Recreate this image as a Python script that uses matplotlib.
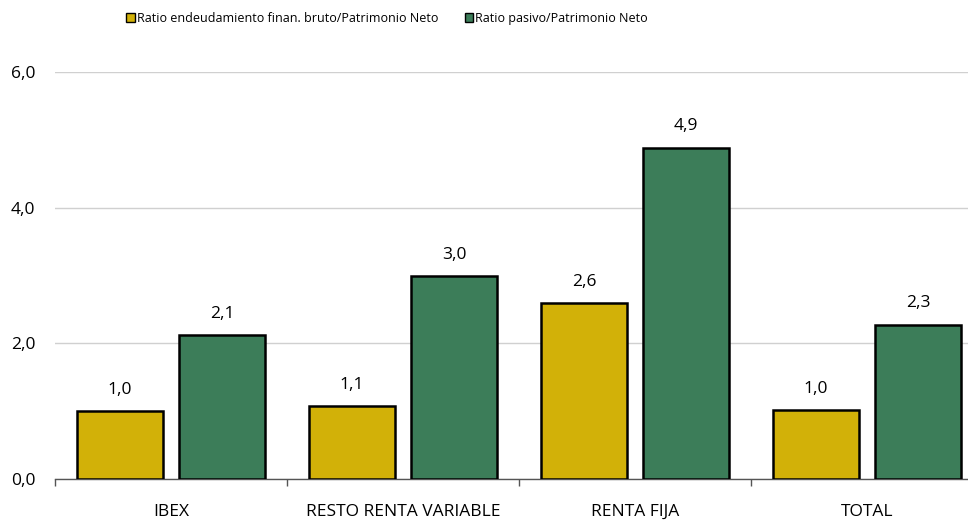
import matplotlib.pyplot as plt
import numpy as np
from matplotlib.patches import Patch

categories = ["IBEX", "RESTO RENTA VARIABLE", "RENTA FIJA", "TOTAL"]
ratio_endeud = [1.00, 1.07, 2.59, 1.01]
ratio_pasivo = [2.12, 2.99, 4.88, 2.27]
labels_endeud = ["1,0", "1,1", "2,6", "1,0"]
labels_pasivo = ["2,1", "3,0", "4,9", "2,3"]
series_names = ["Ratio endeudamiento finan. bruto/Patrimonio Neto",
                "Ratio pasivo/Patrimonio Neto"]

YELLOW = "#D2B108"
GREEN = "#3C7D59"

plt.rcParams["font.family"] = ["Open Sans", "DejaVu Sans"]

fig = plt.figure(figsize=(9.68, 5.23), dpi=100)
ax = fig.add_axes([55/968, 44/523, 928/968, 407/523])

x = np.arange(len(categories))
w = 0.37
off = 0.22
b1 = ax.bar(x - off, ratio_endeud, w, color=YELLOW, edgecolor="black", linewidth=1.8, zorder=3)
b2 = ax.bar(x + off, ratio_pasivo, w, color=GREEN, edgecolor="black", linewidth=1.8, zorder=3)

for bars, labs in ((b1, labels_endeud), (b2, labels_pasivo)):
    for rect, lab in zip(bars, labs):
        ax.text(rect.get_x() + rect.get_width() / 2, rect.get_height() + 0.2, lab,
                ha="center", va="bottom", fontsize=12.5)

ax.set_xlim(-0.5, len(categories) - 0.5)
ax.set_ylim(0, 6)
ax.set_yticks([0, 2, 4, 6])
ax.set_yticklabels(["0,0", "2,0", "4,0", "6,0"], fontsize=12.5)
ax.yaxis.grid(True, color="#d0d0d0", linewidth=1.0, zorder=0)
ax.tick_params(axis="y", length=0, pad=14)

ax.set_xticks(x)
ax.set_xticklabels(categories, fontsize=12.5)
ax.tick_params(axis="x", length=0, pad=18)
ax.set_xticks(np.arange(-0.5, len(categories), 1.0), minor=True)
ax.tick_params(axis="x", which="minor", length=5, color="#555555", width=1)

for s in ("top", "right", "left"):
    ax.spines[s].set_visible(False)
ax.spines["bottom"].set_color("#555555")
ax.spines["bottom"].set_linewidth(1.0)

colors = [YELLOW, GREEN]
legend_x = [124/968, 462/968]
for name, c, lx in zip(series_names, colors, legend_x):
    h = Patch(facecolor=c, edgecolor="black", linewidth=1.0)
    fig.legend([h], [name], loc="center left", bbox_to_anchor=(lx, 0.965),
               frameon=False, fontsize=9, handlelength=0.7, handleheight=0.7,
               handletextpad=0.15, borderaxespad=0, borderpad=0.2)

fig.savefig("out.png", dpi=100)
